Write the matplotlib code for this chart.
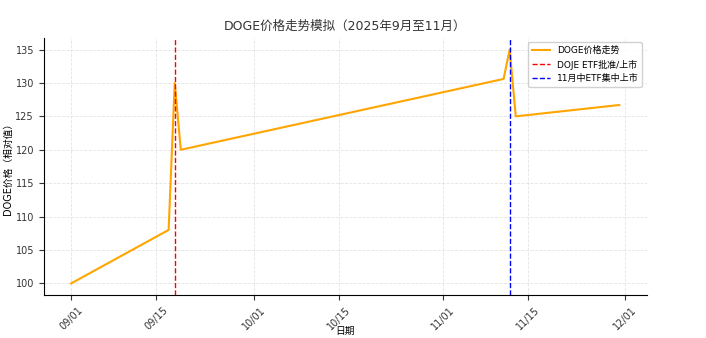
import matplotlib
matplotlib.use("Agg")
import matplotlib.pyplot as plt
import matplotlib.dates as mdates
import pandas as pd

plt.rcParams['font.family'] = ['DejaVu Sans']
CJK = ['DejaVu Sans', 'Noto Sans CJK SC']

dates = ["2025-09-01", "2025-09-17", "2025-09-18", "2025-09-19",
         "2025-11-11", "2025-11-12", "2025-11-13", "2025-11-30"]
prices = [100.0, 108.0, 130.0, 120.0, 130.6, 135.0, 125.0, 126.7]
event1_date = "2025-09-18"
event2_date = "2025-11-12"
tick_dates = ["2025-09-01", "2025-09-15", "2025-10-01", "2025-10-15",
              "2025-11-01", "2025-11-15", "2025-12-01"]

title = "DOGE价格走势模拟（2025年9月至11月）"
xlabel = "日期"
ylabel = "DOGE价格（相对值）"
label_line = "DOGE价格走势"
label_e1 = "DOJE ETF批准/上市"
label_e2 = "11月中ETF集中上市"

x = pd.to_datetime(dates)

fig = plt.figure(figsize=(7.06, 3.38), dpi=100)
ax = fig.add_axes([0.062, 0.127, 0.854, 0.761])
ax.plot(x, prices, color="orange", lw=1.5, label=label_line)
ax.axvline(pd.to_datetime(event1_date), color="red", ls="--", lw=1, label=label_e1)
ax.axvline(pd.to_datetime(event2_date), color="blue", ls="--", lw=1, label=label_e2)

ax.set_xticks(pd.to_datetime(tick_dates))
ax.xaxis.set_major_formatter(mdates.DateFormatter("%m/%d"))
plt.setp(ax.get_xticklabels(), rotation=45)
ax.tick_params(labelsize=7, colors="#333333")
ax.set_title(title, fontsize=9, color="#333333", family=CJK)
ax.set_xlabel(xlabel, fontsize=7, family=CJK)
ax.set_ylabel(ylabel, fontsize=7, family=CJK)
ax.xaxis.set_label_coords(0.5, -0.12)
ax.yaxis.set_label_coords(-0.052, 0.5)
ax.grid(True, ls="--", color="#dddddd", lw=0.6, alpha=0.8)
for s in ["top", "right"]:
    ax.spines[s].set_visible(False)
ax.legend(loc="upper right", prop={'family': CJK, 'size': 6.5}, framealpha=0.9)

fig.savefig("out.png", dpi=100)
